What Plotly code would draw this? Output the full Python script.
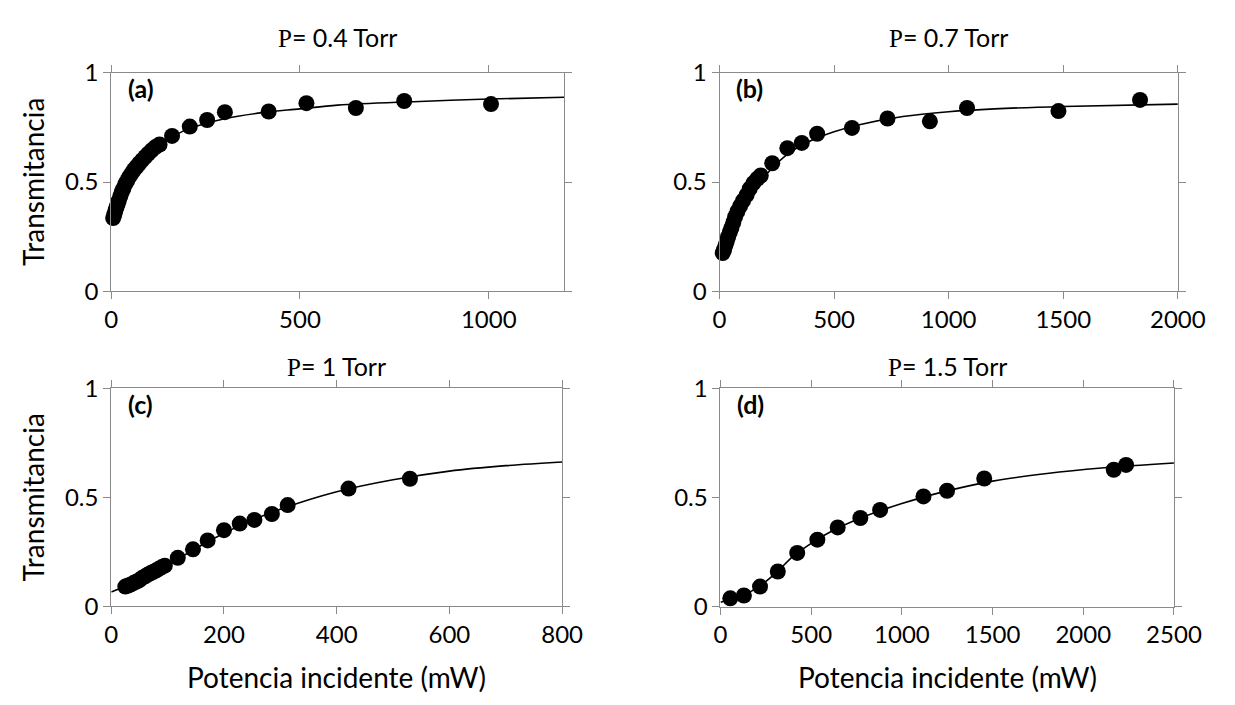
import plotly.graph_objects as go

W, H = 1235, 705
FONT = "Lato"

# ---- (a) P = 0.4 Torr ----
a_power = [5, 8, 11, 14, 17, 20, 24, 28, 32, 37, 42, 48, 54, 60, 67, 74, 82, 90, 98, 107, 117, 128,
           161, 208, 254, 301, 417, 517, 648, 776, 1006]
a_trans = [0.335, 0.35, 0.37, 0.385, 0.40, 0.415, 0.435, 0.455, 0.47, 0.49, 0.505, 0.525, 0.54, 0.555,
           0.57, 0.585, 0.60, 0.615, 0.63, 0.645, 0.66, 0.672,
           0.711, 0.754, 0.784, 0.82, 0.823, 0.861, 0.839, 0.871, 0.857]
a_fit_power = [0, 25, 50, 100, 150, 200, 300, 400, 500, 600, 800, 1000, 1200]
a_fit_trans = [0.32, 0.44, 0.525, 0.635, 0.695, 0.74, 0.79, 0.818, 0.835, 0.852, 0.868, 0.88, 0.888]

# ---- (b) P = 0.7 Torr ----
b_power = [14, 20, 26, 32, 38, 45, 52, 60, 68, 78, 90, 103, 118, 132, 148, 165, 180,
           230, 296, 359, 426, 578, 733, 918, 1080, 1479, 1835]
b_trans = [0.175, 0.19, 0.21, 0.23, 0.25, 0.27, 0.29, 0.315, 0.34, 0.365, 0.39, 0.415, 0.44,
           0.47, 0.495, 0.515, 0.53,
           0.586, 0.655, 0.679, 0.721, 0.748, 0.791, 0.778, 0.839, 0.825, 0.876]
b_fit_power = [0, 25, 50, 100, 150, 200, 300, 400, 500, 600, 800, 1000, 1200, 1500, 2000]
b_fit_trans = [0.15, 0.20, 0.26, 0.37, 0.46, 0.53, 0.63, 0.69, 0.73, 0.76, 0.80, 0.822, 0.835,
               0.846, 0.857]

# ---- (c) P = 1 Torr ----
c_power = [25, 30, 35, 40, 45, 50, 55, 60, 65, 70, 75, 80, 85, 90, 95,
           118, 145, 171, 200, 228, 254, 285, 313, 421, 530]
c_trans = [0.09, 0.095, 0.10, 0.107, 0.113, 0.12, 0.13, 0.137, 0.145, 0.152, 0.158, 0.165,
           0.172, 0.18, 0.186,
           0.222, 0.261, 0.302, 0.349, 0.379, 0.396, 0.423, 0.464, 0.54, 0.585]
c_fit_power = [0, 50, 100, 150, 200, 250, 300, 400, 500, 600, 700, 800]
c_fit_trans = [0.065, 0.12, 0.19, 0.265, 0.335, 0.395, 0.445, 0.525, 0.58, 0.62, 0.645, 0.662]

# ---- (d) P = 1.5 Torr ----
d_power = [54, 129, 218, 316, 423, 534, 646, 771, 880, 1119, 1249, 1454, 2168, 2236]
d_trans = [0.038, 0.051, 0.092, 0.161, 0.246, 0.307, 0.363, 0.406, 0.443, 0.505, 0.531,
           0.587, 0.627, 0.649]
d_fit_power = [0, 100, 200, 300, 400, 500, 600, 800, 1000, 1200, 1500, 1800, 2100, 2500]
d_fit_trans = [0.02, 0.045, 0.085, 0.15, 0.23, 0.29, 0.34, 0.415, 0.472, 0.52, 0.575, 0.61,
               0.635, 0.658]

titles = ["0.4", "0.7", "1", "1.5"]
letters = ["(a)", "(b)", "(c)", "(d)"]
x_ranges = [1200, 2000, 800, 2500]
x_ticks = [[0, 500, 1000], [0, 500, 1000, 1500, 2000], [0, 200, 400, 600, 800],
           [0, 500, 1000, 1500, 2000, 2500]]
y_ticks = [0, 0.5, 1]
y_ticktext = ["0", "0.5", "1"]

panels = [
    (a_power, a_trans, a_fit_power, a_fit_trans),
    (b_power, b_trans, b_fit_power, b_fit_trans),
    (c_power, c_trans, c_fit_power, c_fit_trans),
    (d_power, d_trans, d_fit_power, d_fit_trans),
]

# plot-area boxes in pixels: (left, right, top, bottom)
boxes = [(107.3, 573.5, 59.3, 287.0), (733.3, 1205.0, 59.3, 287.0),
         (107.3, 571.3, 388.3, 615.5), (734.3, 1201.0, 388.3, 616.0)]

fig = go.Figure()
axis_color = "#8a8a8a"


def note(xp, yp, text, size, bold=False, angle=0, xanchor="center"):
    """Place a text label at pixel position (xp, yp) measured from the top-left corner."""
    fig.add_annotation(x=xp / W, y=1 - yp / H, xref="paper", yref="paper",
                       xanchor=xanchor, yanchor="middle", showarrow=False,
                       textangle=angle, text=("<b>" + text + "</b>") if bold else text,
                       font=dict(family=FONT, size=size, color="black"))


for i, (px, py, fx, fy) in enumerate(panels):
    n = "" if i == 0 else str(i + 1)
    xa, ya = "x" + n, "y" + n
    fig.add_trace(go.Scatter(x=fx, y=fy, mode="lines", xaxis=xa, yaxis=ya,
                             line=dict(color="black", width=1.6, shape="spline"),
                             hoverinfo="skip", showlegend=False))
    fig.add_trace(go.Scatter(x=px, y=py, mode="markers", xaxis=xa, yaxis=ya,
                             marker=dict(color="black", size=16, line=dict(width=0)),
                             cliponaxis=False, showlegend=False))
    l, r, t, b = boxes[i]
    common = dict(showgrid=False, zeroline=False, showline=True, linecolor=axis_color,
                  linewidth=1, mirror="ticks", ticks="outside", ticklen=7,
                  tickcolor=axis_color, tickwidth=1,
                  tickfont=dict(family=FONT, size=24, color="black"))
    fig.update_layout(**{
        "xaxis" + n: dict(domain=[l / W, r / W], range=[0, x_ranges[i]],
                          tickvals=x_ticks[i], anchor=ya, **common),
        "yaxis" + n: dict(domain=[1 - b / H, 1 - t / H], range=[0, 1],
                          tickvals=y_ticks, ticktext=y_ticktext, anchor=xa, **common),
    })
    # panel title
    note((l + r) / 2, 22 if i < 2 else 365,
         "<span style='font-family:Liberation Serif'>P</span>= " + titles[i] + " Torr", 25)
    # panel letter
    note(l + 15, t + 16, letters[i], 25, bold=True, xanchor="left")

# shared axis titles
for yc in [173, 502]:
    note(27, yc, "Transmitancia", 28, angle=-90)
for xc in [339.3, 967.6]:
    note(xc, 689, "Potencia incidente (mW)", 28)

fig.update_layout(width=W, height=H, margin=dict(l=0, r=0, t=0, b=0),
                  paper_bgcolor="white", plot_bgcolor="white", showlegend=False)

fig.write_html("out.html")
